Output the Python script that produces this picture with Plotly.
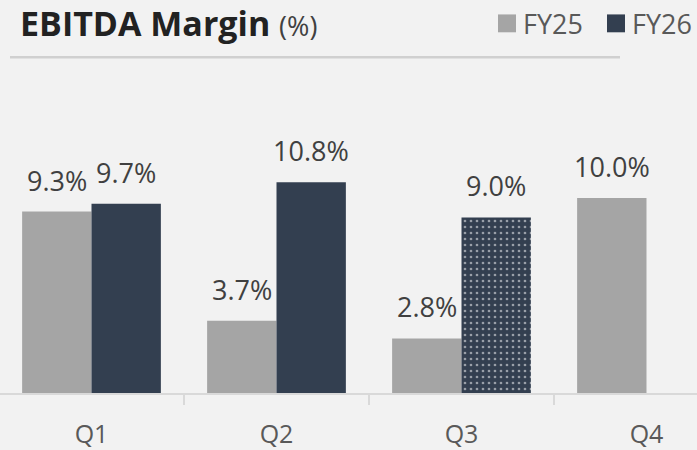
import plotly.graph_objects as go

quarters = ["Q1", "Q2", "Q3", "Q4"]
fy25 = [9.3, 3.7, 2.8, 10.0]
fy26 = [9.7, 10.8, 9.0, None]
fy25_labels = ["9.3%", "3.7%", "2.8%", "10.0%"]
fy26_labels = ["9.7%", "10.8%", "9.0%", ""]
fy26_pattern = ["", "", ".", ""]

C25 = "#a5a5a5"
C26 = "#333f50"
BG = "#f2f2f2"
FONT = "Open Sans"

fig = go.Figure()
fig.add_trace(go.Bar(x=quarters, y=fy25, name="FY25", marker=dict(color=C25, line=dict(width=0))))
fig.add_trace(go.Bar(
    x=quarters, y=fy26, name="FY26",
    marker=dict(color=C26, line=dict(width=0),
                pattern=dict(shape=fy26_pattern, fgcolor="#ffffff", bgcolor=C26, size=6, solidity=0.16)),
))

ann = []
for q, v, t in zip(quarters, fy25, fy25_labels):
    ann.append(dict(x=q, y=v, text=t, xshift=-34.5, yshift=11, yanchor="bottom", showarrow=False,
                    font=dict(family=FONT, size=27, color="#404040")))
for q, v, t in zip(quarters, fy26, fy26_labels):
    if v is None:
        continue
    ann.append(dict(x=q, y=v, text=t, xshift=34.5, yshift=11, yanchor="bottom", showarrow=False,
                    font=dict(family=FONT, size=27, color="#404040")))

H = 315.0
def py(ypx):
    return (395 - ypx) / H

# title
ann.append(dict(xref="paper", yref="paper", x=18/697, y=py(23), xanchor="left", yanchor="middle",
                text="<b>EBITDA Margin</b> <span style='font-size:27px;color:#404040'>(%)</span>",
                showarrow=False, font=dict(family=FONT, size=34, color="#222222")))
# legend texts
ann.append(dict(xref="paper", yref="paper", x=521/697, y=py(23), xanchor="left", yanchor="middle",
                text="FY25", showarrow=False, font=dict(family=FONT, size=27, color="#595959")))
ann.append(dict(xref="paper", yref="paper", x=630/697, y=py(23), xanchor="left", yanchor="middle",
                text="FY26", showarrow=False, font=dict(family=FONT, size=27, color="#595959")))

shapes = [
    dict(type="line", xref="paper", yref="paper", x0=10/697, x1=620/697, y0=py(57), y1=py(57),
         line=dict(color="#d0d0d0", width=2.5)),
    dict(type="rect", xref="paper", yref="paper", x0=498/697, x1=516/697, y0=py(32), y1=py(14),
         fillcolor=C25, line=dict(width=0)),
    dict(type="rect", xref="paper", yref="paper", x0=607/697, x1=625/697, y0=py(32), y1=py(14),
         fillcolor=C26, line=dict(width=0)),
]

fig.update_layout(
    width=697, height=450,
    margin=dict(l=0, r=0, t=80, b=55),
    paper_bgcolor=BG, plot_bgcolor=BG,
    barmode="group", bargap=0.25, bargroupgap=0,
    showlegend=False,
    annotations=ann, shapes=shapes,
    xaxis=dict(range=[-0.4946, 3.273], showgrid=False, showline=True, linecolor="#d9d9d9", linewidth=1.5,
               ticks="outside", tickson="boundaries", ticklen=10, tickcolor="#d9d9d9", tickwidth=1.5,
               ticklabelstandoff=18,
               tickfont=dict(family=FONT, size=25, color="#595959"), zeroline=False, fixedrange=True),
    yaxis=dict(range=[0, H / 19.63], visible=False, showgrid=False, zeroline=False, fixedrange=True),
)

fig.write_html("out.html", config={"displayModeBar": False},
               post_script="document.body.style.margin='0';document.body.style.background='#f2f2f2';")
